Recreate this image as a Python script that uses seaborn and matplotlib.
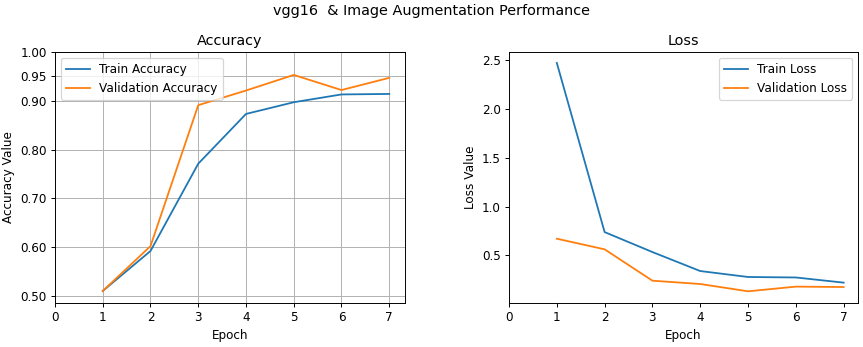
import matplotlib
matplotlib.use("Agg")
import matplotlib.pyplot as plt
import seaborn as sns
import pandas as pd

epochs = [1, 2, 3, 4, 5, 6, 7]
train_acc = [0.510, 0.592, 0.771, 0.873, 0.897, 0.913, 0.914]
val_acc = [0.510, 0.602, 0.891, 0.921, 0.953, 0.922, 0.947]
train_loss = [2.475, 0.738, 0.533, 0.338, 0.277, 0.272, 0.219]
val_loss = [0.670, 0.561, 0.239, 0.205, 0.130, 0.178, 0.174]
acc_ticks = [0.50, 0.60, 0.70, 0.80, 0.90, 0.95, 1.00]
x_ticks = [0, 1, 2, 3, 4, 5, 6, 7]

plt.rcParams["font.family"] = ["DejaVu Sans"]
blue, orange = "#1f77b4", "#ff7f0e"

dpi = 86.4
W, H = 863, 347
fig = plt.figure(figsize=(W / dpi, H / dpi), dpi=dpi)
ax1 = fig.add_axes([55 / W, 1 - 302.7 / H, 350 / W, 250.7 / H])
ax2 = fig.add_axes([509 / W, 1 - 302.7 / H, 349 / W, 250.7 / H])

df_acc = pd.DataFrame({"Epoch": epochs * 2,
                       "Value": train_acc + val_acc,
                       "Series": ["Train Accuracy"] * 7 + ["Validation Accuracy"] * 7})
df_loss = pd.DataFrame({"Epoch": epochs * 2,
                        "Value": train_loss + val_loss,
                        "Series": ["Train Loss"] * 7 + ["Validation Loss"] * 7})

sns.lineplot(data=df_acc, x="Epoch", y="Value", hue="Series", palette=[blue, orange],
             ax=ax1, linewidth=1.5)
sns.lineplot(data=df_loss, x="Epoch", y="Value", hue="Series", palette=[blue, orange],
             ax=ax2, linewidth=1.5)

ax1.set_title("Accuracy", fontsize=12)
ax1.set_xlabel("Epoch", fontsize=10)
ax1.set_ylabel("Accuracy Value", fontsize=10)
ax1.set_yticks(acc_ticks)
ax1.set_yticklabels([f"{t:.2f}" for t in acc_ticks])
ax1.set_ylim(0.486, 1.0)
ax1.set_xticks(x_ticks)
ax1.set_xlim(0, 7.33)
ax1.grid(True, color="#b0b0b0", linewidth=0.8)
ax1.legend(loc="upper left", fontsize=10, title=None)

ax2.set_title("Loss", fontsize=12)
ax2.set_xlabel("Epoch", fontsize=10)
ax2.set_ylabel("Loss Value", fontsize=10)
ax2.set_yticks([0.5, 1.0, 1.5, 2.0, 2.5])
ax2.set_ylim(0.013, 2.587)
ax2.set_xticks(x_ticks)
ax2.set_xlim(0, 7.3)
ax2.legend(loc="upper right", fontsize=10, title=None)

for ax in (ax1, ax2):
    ax.tick_params(labelsize=10)

fig.suptitle("vgg16  & Image Augmentation Performance", fontsize=12, y=1 - 4 / H, va="top")
fig.savefig("out.png", dpi=dpi)
